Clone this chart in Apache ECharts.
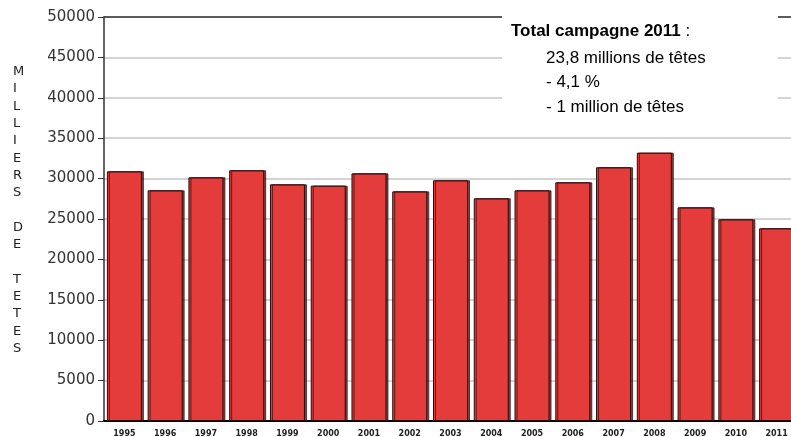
<!DOCTYPE html>
<html>
<head>
<meta charset="utf-8">
<script src="https://cdn.jsdelivr.net/npm/echarts@6/dist/echarts.min.js"></script>
<style>
  html, body { margin: 0; padding: 0; background: #fff; }
  #chart { width: 791px; height: 437px; }
</style>
</head>
<body>
<div id="chart"></div>
<script>
// années de campagne
var years = ['1995', '1996', '1997', '1998', '1999', '2000', '2001', '2002', '2003',
  '2004', '2005', '2006', '2007', '2008', '2009', '2010', '2011'];
// milliers de têtes
var heads = [30900, 28550, 30160, 31030, 29290, 29130, 30650, 28420, 29790,
  27560, 28550, 29540, 31400, 33210, 26440, 24960, 23850];

var yTitle = 'MILLIERS DE TETES';
var noteTitle = 'Total campagne 2011';
var noteLines = ['23,8 millions de têtes', '- 4,1 %', '- 1 million de têtes'];

var chart = echarts.init(document.getElementById('chart'), null, { renderer: 'canvas' });

var option = {
  animation: false,
  backgroundColor: '#fff',
  grid: {
    left: 104,
    top: 17,
    width: 693,
    height: 404,
    containLabel: false,
    outerBoundsMode: 'none'
  },
  xAxis: [{
    type: 'category',
    data: years,
    axisLine: { lineStyle: { color: '#000', width: 2 } },
    axisTick: { show: false },
    axisLabel: {
      interval: 0,
      margin: 9,
      color: '#222',
      fontFamily: 'DejaVu Sans',
      fontWeight: 'bold',
      fontSize: 8
    }
  }, {
    // trait du haut à 50000
    type: 'category',
    position: 'top',
    data: years,
    axisLine: { lineStyle: { color: '#333', width: 1.5 } },
    axisTick: { show: false },
    axisLabel: { show: false }
  }],
  yAxis: {
    type: 'value',
    min: 0,
    max: 50000,
    interval: 5000,
    axisLine: { show: true, lineStyle: { color: '#333', width: 1.5 } },
    axisTick: { show: true, length: 6, lineStyle: { color: '#333' } },
    axisLabel: {
      margin: 9,
      color: '#333',
      fontFamily: 'DejaVu Sans',
      fontSize: 15,
      formatter: function (v) { return String(v); }
    },
    splitLine: { lineStyle: { color: '#c6c6c6', width: 1.5 } }
  },
  series: [{
    type: 'bar',
    z: 10,
    data: heads,
    barWidth: 35,
    itemStyle: {
      color: '#e43b3b',
      borderColor: '#2a0c0c',
      borderWidth: 1,
      shadowColor: 'rgba(70,10,10,0.75)',
      shadowOffsetX: 2,
      shadowOffsetY: 0,
      shadowBlur: 0
    }
  }],
  graphic: [
    // cadre blanc de la note
    {
      type: 'rect',
      z: 100,
      shape: { x: 502, y: 4, width: 276, height: 120 },
      style: { fill: '#fff' }
    },
    {
      type: 'text',
      z: 101,
      left: 511,
      top: 23,
      style: {
        text: '{b|' + noteTitle + '} :',
        fill: '#000',
        font: '17px "Liberation Sans"',
        rich: { b: { fontWeight: 'bold', fontSize: 17, fontFamily: 'Liberation Sans' } }
      }
    },
    {
      type: 'text',
      z: 101,
      left: 546,
      top: 46,
      style: {
        text: noteLines.join('\n'),
        fill: '#000',
        font: '17px "Liberation Sans"',
        lineHeight: 24.5
      }
    },
    // titre vertical de l'axe
    {
      type: 'text',
      z: 101,
      left: 13,
      top: 63,
      style: {
        text: yTitle.split('').join('\n'),
        fill: '#222',
        font: '13px "DejaVu Sans"',
        lineHeight: 17.3,
        align: 'center'
      }
    }
  ]
};

chart.setOption(option);
</script>
</body>
</html>
